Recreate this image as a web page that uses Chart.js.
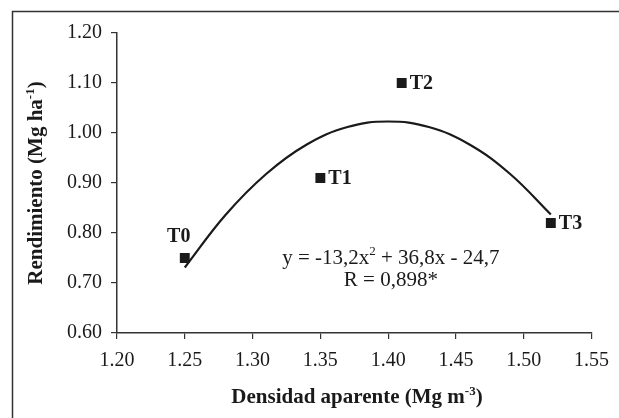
<!DOCTYPE html>
<html>
<head>
<meta charset="utf-8">
<script src="https://cdn.jsdelivr.net/npm/chart.js@4/dist/chart.umd.min.js"></script>
<style>
  html, body { margin: 0; padding: 0; background: #fff; }
  #wrap { width: 619px; height: 418px; }
</style>
</head>
<body>
<div id="wrap"><canvas id="chart" width="619" height="418"></canvas></div>
<script>
/* ── Data ── */
const density = [1.25, 1.35, 1.41, 1.52];
const yieldVals = [0.75, 0.91, 1.10, 0.82];
const treatLabels = ["T0", "T1", "T2", "T3"];

// quadratic trend line
const trendX = [1.25, 1.28, 1.31, 1.34, 1.37, 1.40, 1.43, 1.46, 1.49, 1.52];
const trendY = [0.731, 0.836, 0.918, 0.977, 1.012, 1.023, 1.012, 0.977, 0.918, 0.837];

const xTicks = [1.20, 1.25, 1.30, 1.35, 1.40, 1.45, 1.50, 1.55];
const yTicks = [0.60, 0.70, 0.80, 0.90, 1.00, 1.10, 1.20];

const SERIF = "'Liberation Serif', 'DejaVu Serif', serif";
const INK = "#1a1a1a";

/* ── text with superscript runs ── */
function runsWidth(ctx, runs, size, bold) {
  let w = 0;
  runs.forEach(r => {
    ctx.font = (bold ? "bold " : "") + (r.sup ? Math.round(size * 0.62) : size) + "px " + SERIF;
    w += ctx.measureText(r.t).width;
  });
  return w;
}
function drawRuns(ctx, runs, cx, cy, size, bold) {
  let x = cx - runsWidth(ctx, runs, size, bold) / 2;
  ctx.textBaseline = "middle";
  ctx.textAlign = "left";
  runs.forEach(r => {
    const s = r.sup ? Math.round(size * 0.62) : size;
    ctx.font = (bold ? "bold " : "") + s + "px " + SERIF;
    ctx.fillText(r.t, x, r.sup ? cy - size * 0.3 : cy);
    x += ctx.measureText(r.t).width;
  });
}

/* ── frame, titles, labels, equation ── */
const decor = {
  id: "decor",
  afterDatasetsDraw(chart) {
    const ctx = chart.ctx;
    const xs = chart.scales.x, ys = chart.scales.y;
    ctx.save();
    ctx.fillStyle = INK;

    // point labels
    ctx.font = "bold 20px " + SERIF;
    ctx.textBaseline = "middle";
    treatLabels.forEach((lab, i) => {
      const px = xs.getPixelForValue(density[i]);
      const py = ys.getPixelForValue(yieldVals[i]);
      if (i === 0) {
        ctx.textAlign = "center";
        ctx.fillText(lab, px - 6, py - 21);
      } else {
        ctx.textAlign = "left";
        ctx.fillText(lab, px + 8, py + 1);
      }
    });

    // equation
    const ex = xs.getPixelForValue(1.402);
    drawRuns(ctx, [{ t: "y = -13,2x" }, { t: "2", sup: true }, { t: " + 36,8x - 24,7" }], ex, ys.getPixelForValue(0.75), 21, false);
    drawRuns(ctx, [{ t: "R = 0,898*" }], ex, ys.getPixelForValue(0.706), 21, false);

    // axis titles
    drawRuns(ctx, [{ t: "Densidad aparente (Mg m" }, { t: "-3", sup: true }, { t: ")" }], 357, 398, 21, true);
    ctx.save();
    ctx.translate(37, (chart.chartArea.top + chart.chartArea.bottom) / 2);
    ctx.rotate(-Math.PI / 2);
    drawRuns(ctx, [{ t: "Rendimiento (Mg ha" }, { t: "-1", sup: true }, { t: ")" }], 0, 0, 21, true);
    ctx.restore();

    // outer frame (open at right and bottom, as in the scan)
    ctx.strokeStyle = "#333";
    ctx.lineWidth = 1.5;
    ctx.beginPath();
    ctx.moveTo(12.5, 418);
    ctx.lineTo(12.5, 11.5);
    ctx.lineTo(619, 11.5);
    ctx.stroke();
    ctx.restore();
  }
};

const axisCommon = {
  grid: { drawOnChartArea: false, drawTicks: true, tickLength: 6, color: "#333", lineWidth: 1.2 },
  border: { display: true, color: "#333", width: 1.5 },
  ticks: { color: INK, font: { family: SERIF, size: 20 }, maxRotation: 0, autoSkip: false }
};

new Chart(document.getElementById("chart"), {
  type: "scatter",
  data: {
    datasets: [
      {
        label: "Tratamientos",
        data: density.map((x, i) => ({ x, y: yieldVals[i] })),
        pointStyle: "rect",
        pointRadius: 7,
        pointBackgroundColor: INK,
        pointBorderWidth: 0,
        showLine: false,
        order: 1
      },
      {
        label: "Tendencia",
        data: trendX.map((x, i) => ({ x, y: trendY[i] })),
        showLine: true,
        borderColor: INK,
        borderWidth: 2.2,
        pointRadius: 0,
        tension: 0.4,
        fill: false,
        order: 2
      }
    ]
  },
  options: {
    responsive: false,
    animation: false,
    layout: { padding: { left: 0, top: 33, right: 27, bottom: 0 } },
    plugins: { legend: { display: false }, tooltip: { enabled: false } },
    scales: {
      x: Object.assign({}, axisCommon, {
        type: "linear",
        min: 1.20, max: 1.55,
        afterBuildTicks: s => { s.ticks = xTicks.map(v => ({ value: v })); },
        afterFit: s => { s.height = 85; },
        ticks: Object.assign({}, axisCommon.ticks, { padding: 10, callback: v => v.toFixed(2) })
      }),
      y: Object.assign({}, axisCommon, {
        type: "linear",
        min: 0.60, max: 1.20,
        afterBuildTicks: s => { s.ticks = yTicks.map(v => ({ value: v })); },
        afterFit: s => { s.width = 117; },
        ticks: Object.assign({}, axisCommon.ticks, { padding: 9, callback: v => v.toFixed(2) })
      })
    }
  },
  plugins: [decor]
});
</script>
</body>
</html>
